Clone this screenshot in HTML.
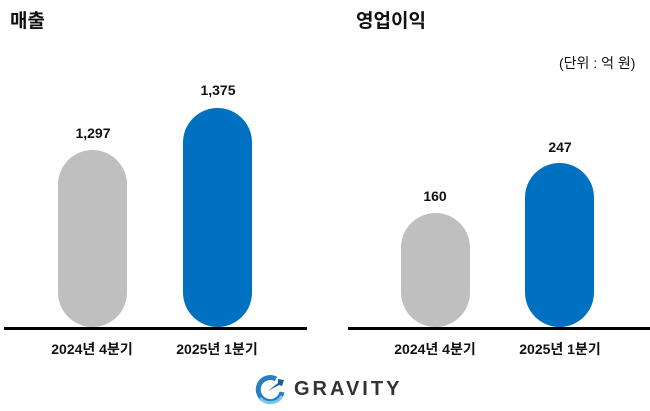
<!DOCTYPE html>
<html><head><meta charset="utf-8"><style>
body{margin:0;width:650px;height:411px;background:#fff;position:relative;overflow:hidden;font-family:"Liberation Sans","Noto Sans CJK KR",sans-serif;}
.a{position:absolute;white-space:nowrap;font-weight:bold;color:#111;}
.bar{position:absolute;border-radius:35px 35px 35px 35px;}
.c{text-align:center;width:120px;}
</style></head><body>
<div class="a" style="left:10px;top:6px;font-size:19px;">매출</div>
<div class="a" style="left:356px;top:6px;font-size:19px;">영업이익</div>
<div class="a" style="left:559px;top:53px;font-size:14px;font-weight:normal;">(단위 : 억 원)</div>

<div class="bar" style="left:58px;top:150px;width:69px;height:177px;background:#bfbfbf;"></div>
<div class="bar" style="left:183px;top:108px;width:69px;height:219px;background:#0070c0;"></div>
<div class="bar" style="left:401px;top:213px;width:69px;height:114px;background:#bfbfbf;"></div>
<div class="bar" style="left:525px;top:163px;width:69px;height:164px;background:#0070c0;"></div>

<div class="a c" style="left:33px;top:125px;font-size:14px;">1,297</div>
<div class="a c" style="left:158px;top:82px;font-size:14px;">1,375</div>
<div class="a c" style="left:375px;top:188px;font-size:14px;">160</div>
<div class="a c" style="left:500px;top:139px;font-size:14px;">247</div>

<div style="position:absolute;left:4px;top:327px;width:303px;height:3px;background:#000;"></div>
<div style="position:absolute;left:348px;top:327px;width:302px;height:3px;background:#000;"></div>

<div class="a c" style="left:32px;top:339px;font-size:14px;">2024년 4분기</div>
<div class="a c" style="left:157px;top:339px;font-size:14px;">2025년 1분기</div>
<div class="a c" style="left:375px;top:339px;font-size:14px;">2024년 4분기</div>
<div class="a c" style="left:500px;top:339px;font-size:14px;">2025년 1분기</div>

<svg style="position:absolute;left:254px;top:374px" width="34" height="32" viewBox="0 0 34 32">
<path d="M22 5 A12 12 0 1 0 28 18" fill="none" stroke="#2a7fc4" stroke-width="5"/>
<path d="M14 17 L24 9 L24 5 L30 6 L28 12 L25 11 Z" fill="#1a5e9e"/>
<path d="M6 24 A13 12 0 0 0 28 22" fill="none" stroke="#7cc4ea" stroke-width="3"/>
</svg>
<div class="a" style="left:294px;top:378px;font-size:20px;letter-spacing:3px;color:#333;">GRAVITY</div>
</body></html>
